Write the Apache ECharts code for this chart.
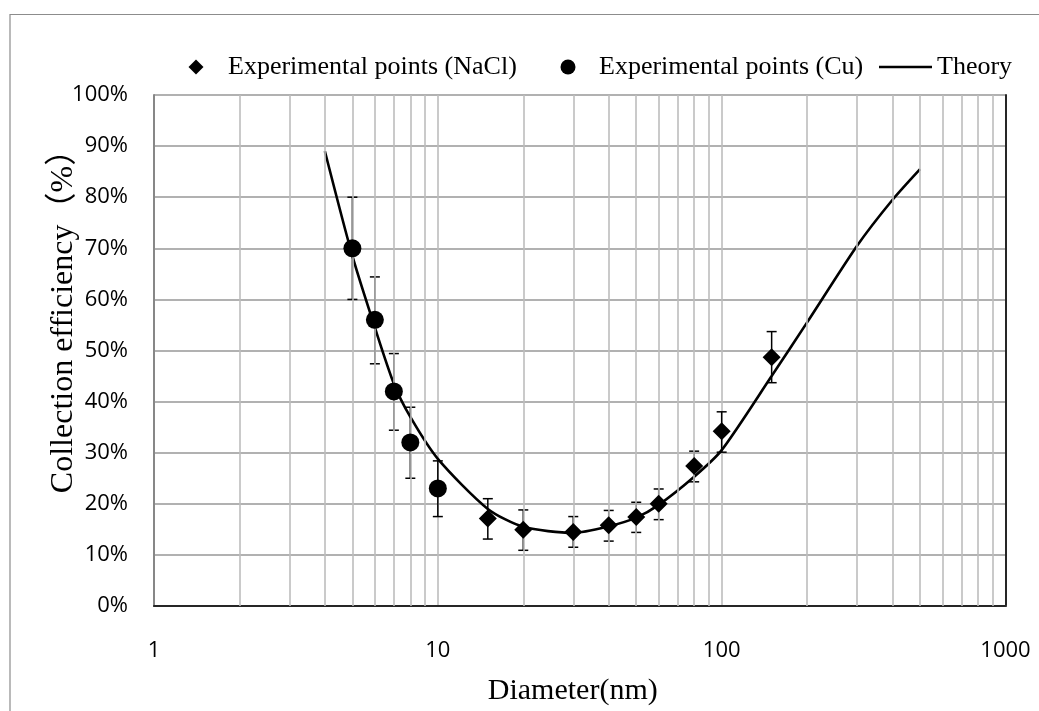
<!DOCTYPE html>
<html>
<head>
<meta charset="utf-8">
<script src="https://cdn.jsdelivr.net/npm/echarts@6/dist/echarts.min.js"></script>
<style>
html,body{margin:0;padding:0;background:#fff;}
#chart{width:1039px;height:711px;}
</style>
</head>
<body>
<div id="chart"></div>
<script>
// ---- data ----
const cuDiameter = [5, 6, 7, 8, 10];
const cuEff = [70, 56, 42, 32, 23];
const cuLow = [60, 47.4, 34.4, 25, 17.5];
const cuHigh = [80, 64.4, 49.4, 38.9, 28.4];

const naclDiameter = [15, 20, 30, 40, 50, 60, 80, 100, 150];
const naclEff = [17.1, 14.9, 14.5, 15.8, 17.4, 20, 27.4, 34.2, 48.7];
const naclLow = [13.1, 10.9, 11.5, 12.7, 14.4, 16.9, 24.3, 30.1, 43.7];
const naclHigh = [21, 18.8, 17.5, 18.7, 20.3, 22.9, 30.3, 38, 53.7];

const theoryDiameter = [4, 5, 6, 7, 8, 10, 15, 20, 30, 40, 50, 60, 80, 100, 150, 200, 300, 400, 500];
const theoryEff = [89, 68.5, 54.5, 43.5, 37, 28.8, 19, 15.5, 14.3, 15.6, 17.3, 19.8, 25.3, 30.5, 45, 55.5, 70.5, 79.5, 85.5];

const minorGridX = [2, 3, 4, 5, 6, 7, 8, 9, 20, 30, 40, 50, 60, 70, 80, 90, 200, 300, 400, 500, 600, 700, 800, 900];

const legendNames = ['Experimental points (NaCl)', 'Experimental points (Cu)', 'Theory'];
const xAxisTitle = 'Diameter(nm)';
const yAxisTitle = 'Collection efficiency（%）';

// ---- build ----
const zip = (a, b) => a.map((v, i) => [v, b[i]]);
const errData = (xs, lo, hi) => xs.map((v, i) => [v, lo[i], hi[i]]);

function errorBarRender(params, api) {
  const x = api.value(0);
  const lo = api.coord([x, api.value(1)]);
  const hi = api.coord([x, api.value(2)]);
  const cap = 5;
  const style = { stroke: '#000', lineWidth: 1.5 };
  return {
    type: 'group',
    children: [
      { type: 'line', shape: { x1: lo[0], y1: lo[1], x2: hi[0], y2: hi[1] }, style },
      { type: 'line', shape: { x1: hi[0] - cap, y1: hi[1], x2: hi[0] + cap, y2: hi[1] }, style },
      { type: 'line', shape: { x1: lo[0] - cap, y1: lo[1], x2: lo[0] + cap, y2: lo[1] }, style }
    ]
  };
}

const chart = echarts.init(document.getElementById('chart'), null, { renderer: 'canvas' });

const legendText = (padLeft) => ({ fontFamily: '"Liberation Serif", "Times New Roman", serif', fontSize: 26, color: '#000', lineHeight: 26, padding: [0, 0, 0, padLeft] });
const tickFont = { fontFamily: '"Open Sans", "Noto Sans", sans-serif', fontSize: 22, color: '#000', lineHeight: 22 };

const option = {
  animation: false,
  backgroundColor: '#fff',
  graphic: [
    { type: 'rect', left: 7.5, top: 12, shape: { width: 1100, height: 800 }, style: { fill: 'none', stroke: '#8c8c8c', lineWidth: 1.2 }, silent: true, z: -10 }
  ],
  grid: { left: 154, right: 33.5, top: 95, bottom: 99.3, containLabel: false },
  legend: [
    { data: [{ name: legendNames[0], icon: 'diamond' }], left: 188.5, top: 54, padding: 0, itemWidth: 15, itemHeight: 15, textStyle: legendText(19.5), selectedMode: false },
    { data: [{ name: legendNames[1], icon: 'circle' }], left: 560.5, top: 54, padding: 0, itemWidth: 15, itemHeight: 15, textStyle: legendText(18.5), selectedMode: false },
    { data: [{ name: legendNames[2], icon: 'rect' }], left: 879, top: 54, padding: 0, itemWidth: 53, itemHeight: 2.6, textStyle: legendText(0), selectedMode: false }
  ],
  xAxis: [
    {
      type: 'log', logBase: 10, min: 1, max: 1000,
      name: xAxisTitle, nameLocation: 'middle', nameGap: 70, nameMoveOverlap: false,
      nameTextStyle: { fontFamily: '"Liberation Serif", "Times New Roman", serif', fontSize: 30, color: '#000', lineHeight: 30, padding: [0, 14, 0, 0] },
      axisLine: { show: true, lineStyle: { color: '#878787', width: 2 } },
      axisTick: { show: false },
      axisLabel: Object.assign({ margin: 34, formatter: v => String(v) }, tickFont),
      splitLine: { show: true, lineStyle: { color: '#bdbdbd', width: 1.6 } }
    },
    {
      type: 'log', logBase: 10, min: 1, max: 1000, position: 'top',
      axisLine: { show: true, lineStyle: { color: '#262626', width: 2 } },
      axisTick: { show: false }, axisLabel: { show: false }, splitLine: { show: false }
    }
  ],
  yAxis: [
    {
      type: 'value', min: 0, max: 100, interval: 10,
      name: yAxisTitle, nameLocation: 'middle', nameGap: 74, nameRotate: 90, nameMoveOverlap: false,
      nameTextStyle: { fontFamily: '"Liberation Serif", "Times New Roman", "Noto Sans CJK SC", serif', fontSize: 32, color: '#000', lineHeight: 32, padding: [0, 0, 0, 74] },
      axisLine: { show: true, lineStyle: { color: '#878787', width: 2 } },
      axisTick: { show: false },
      axisLabel: Object.assign({ margin: 26, formatter: '{value}%' }, tickFont),
      splitLine: { show: true, lineStyle: { color: '#979797', width: 1.6 } }
    },
    {
      type: 'value', min: 0, max: 100, position: 'right',
      axisLine: { show: true, lineStyle: { color: '#262626', width: 2 } },
      axisTick: { show: false }, axisLabel: { show: false }, splitLine: { show: false }
    }
  ],
  series: [
    {
      name: 'minor-grid', type: 'line', data: [], silent: true,
      markLine: {
        silent: true, symbol: 'none', label: { show: false },
        lineStyle: { color: '#bdbdbd', width: 1.6, type: 'solid' },
        data: minorGridX.map(v => ({ xAxis: v }))
      },
      z: 1
    },
    {
      name: legendNames[2], type: 'line', data: zip(theoryDiameter, theoryEff),
      showSymbol: false, symbol: 'none', smooth: 0.25,
      lineStyle: { color: '#000', width: 2.6 }, itemStyle: { color: '#000' }, z: 3
    },
    {
      name: 'nacl-err', type: 'custom', renderItem: errorBarRender,
      data: errData(naclDiameter, naclLow, naclHigh), z: 4, silent: true
    },
    {
      name: 'cu-err', type: 'custom', renderItem: errorBarRender,
      data: errData(cuDiameter, cuLow, cuHigh), z: 4, silent: true
    },
    {
      name: legendNames[0], type: 'scatter', symbol: 'diamond', symbolSize: 18,
      data: zip(naclDiameter, naclEff), itemStyle: { color: '#000', opacity: 1 }, z: 5
    },
    {
      name: legendNames[1], type: 'scatter', symbol: 'circle', symbolSize: 18,
      data: zip(cuDiameter, cuEff), itemStyle: { color: '#000', opacity: 1 }, z: 5
    }
  ]
};
chart.setOption(option);
</script>
</body>
</html>
